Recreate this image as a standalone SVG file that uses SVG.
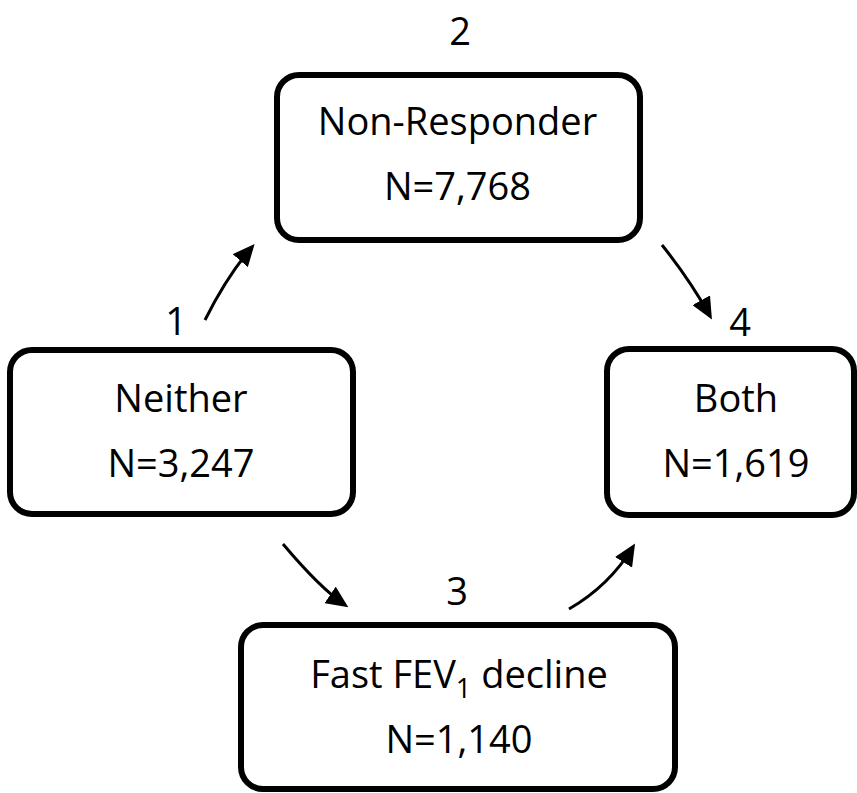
<svg xmlns="http://www.w3.org/2000/svg" width="857" height="793" viewBox="0 0 857 793">
<style>
.box{fill:#fff;stroke:#000;stroke-width:6}
.t{font-family:"Open Sans","Noto Sans","Liberation Sans",sans-serif;font-size:38px;fill:#000;text-anchor:middle}
.num{font-family:"Open Sans","Noto Sans","Liberation Sans",sans-serif;font-size:38px;fill:#000;text-anchor:middle}
.c{fill:none;stroke:#000;stroke-width:3;marker-end:url(#ah)}
</style>
<defs>
<marker id="ah" markerUnits="userSpaceOnUse" viewBox="0 0 22 20" refX="18" refY="10" markerWidth="22" markerHeight="20" orient="auto">
<path d="M0,0 L22,10 L0,20 z" fill="#000"/>
</marker>
</defs>
<g id="node2">
<rect class="box" x="277" y="75" width="363" height="165" rx="22"/>
<text class="t" x="457.5" y="135">Non-Responder</text>
<text class="t" x="457.5" y="200">N=7,768</text>
<text class="num" x="460" y="45">2</text>
</g>
<g id="node1">
<rect class="box" x="10" y="350" width="343" height="164" rx="22"/>
<text class="t" x="181" y="412">Neither</text>
<text class="t" x="181" y="477">N=3,247</text>
<text class="num" x="176" y="335">1</text>
</g>
<g id="node4">
<rect class="box" x="607" y="349" width="247" height="166" rx="22"/>
<text class="t" x="736" y="412">Both</text>
<text class="t" x="736" y="477">N=1,619</text>
<text class="num" x="740" y="336">4</text>
</g>
<g id="node3">
<rect class="box" x="241" y="625" width="434" height="164" rx="22"/>
<text class="t" x="459" y="688">Fast FEV<tspan font-size="27" dy="10">1</tspan><tspan dy="-10"> decline</tspan></text>
<text class="t" x="459" y="753">N=1,140</text>
<text class="num" x="457" y="605">3</text>
</g>
<g id="connectors">
<path class="c" d="M205,320 Q227,276 252,247"/>
<path class="c" d="M662,245 Q690,280 710,316"/>
<path class="c" d="M283,544 Q320,588 345,605"/>
<path class="c" d="M569,609 Q609,586 633,547"/>
</g>
</svg>
